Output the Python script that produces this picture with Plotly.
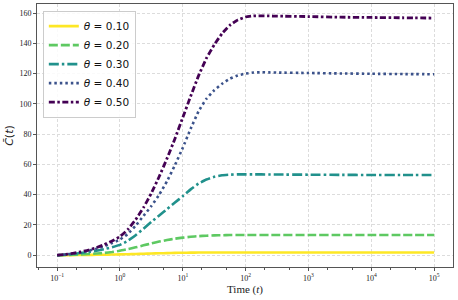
import plotly.graph_objects as go

# time points (log10 of t)
log_t = [-1, -0.875, -0.75, -0.625, -0.5, -0.375, -0.25, -0.125, 0, 0.125, 0.25, 0.375,
         0.5, 0.625, 0.75, 0.875, 1.0, 1.125, 1.25, 1.375, 1.5, 1.625, 1.75, 1.875,
         2.0, 2.125, 2.25, 2.375, 2.5, 3.0, 3.5, 4.0, 4.5, 5.0]
t_vals = [10 ** v for v in log_t]

theta_labels = ["<i>θ</i> = 0.10", "<i>θ</i> = 0.20", "<i>θ</i> = 0.30",
                "<i>θ</i> = 0.40", "<i>θ</i> = 0.50"]

c_010 = [0, 0.03, 0.07, 0.12, 0.18, 0.25, 0.33, 0.42, 0.52, 0.65, 0.8, 0.95,
         1.1, 1.25, 1.4, 1.52, 1.62, 1.7, 1.75, 1.78, 1.8, 1.8, 1.8, 1.8,
         1.8, 1.8, 1.8, 1.8, 1.8, 1.8, 1.8, 1.8, 1.8, 1.8]
c_020 = [0, 0.1, 0.3, 0.5, 0.8, 1.1, 1.5, 2.1, 2.9, 4.0, 5.2, 6.5,
         7.8, 9.0, 10.0, 10.9, 11.6, 12.2, 12.6, 12.9, 13.1, 13.2, 13.3, 13.3,
         13.3, 13.3, 13.3, 13.3, 13.3, 13.3, 13.3, 13.3, 13.3, 13.3]
c_030 = [0, 0.3, 0.8, 1.4, 2.1, 3.0, 4.0, 5.3, 6.8, 9.5, 13.2, 17.5,
         22.0, 26.2, 30.5, 34.8, 39.0, 43.5, 47.3, 50.0, 51.8, 52.8, 53.2, 53.4,
         53.4, 53.4, 53.4, 53.3, 53.3, 53.2, 53.1, 53.0, 53.0, 53.0]
c_040 = [0, 0.4, 1.0, 1.8, 2.9, 4.3, 6.0, 8.0, 10.3, 14.0, 19.5, 26.0,
         32.5, 40.0, 49.0, 59.5, 71.0, 83.5, 95.0, 103.3, 109.0, 113.3, 116.6, 118.8,
         120.0, 120.7, 120.9, 120.8, 120.7, 120.4, 120.1, 119.9, 119.7, 119.6]
c_050 = [0, 0.5, 1.2, 2.2, 3.4, 5.0, 7.0, 9.4, 12.3, 17.0, 23.5, 31.5,
         41.0, 52.0, 64.0, 77.0, 91.0, 105.0, 118.5, 130.0, 139.0, 146.5, 152.0, 155.5,
         157.4, 158.1, 158.2, 158.1, 158.0, 157.7, 157.3, 157.1, 156.9, 156.7]

series = [c_010, c_020, c_030, c_040, c_050]
colors = ["#fde725", "#5ec962", "#21918c", "#3b528b", "#440154"]
dashes = ["solid", "9px,3px", "10px,3px,2.5px,3px", "2.5px,3px", "6px,2.5px,2.5px,2.5px"]
widths = [2.6, 2.6, 2.6, 2.6, 2.8]

x_tickvals = [0.1, 1, 10, 100, 1000, 10000, 100000]
x_ticktext = ["10<sup>−1</sup>", "10<sup>0</sup>", "10<sup>1</sup>", "10<sup>2</sup>",
              "10<sup>3</sup>", "10<sup>4</sup>", "10<sup>5</sup>"]
y_tickvals = [0, 20, 40, 60, 80, 100, 120, 140, 160]

fig = go.Figure()
for name, ys, col, dsh, w in zip(theta_labels, series, colors, dashes, widths):
    fig.add_trace(go.Scatter(x=t_vals, y=ys, mode="lines", name=name,
                             line=dict(color=col, dash=dsh, width=w, shape="spline", smoothing=0.4)))

axis_common = dict(showline=True, linecolor="#555", linewidth=1, mirror=True,
                   ticks="outside", ticklen=3, tickcolor="#555",
                   showgrid=True, gridcolor="#dcdcdc", griddash="3px,2px", gridwidth=0.8,
                   zeroline=False,
                   tickfont=dict(family="Liberation Serif", size=8, color="#222"))

fig.update_xaxes(type="log", range=[-1.32, 5.3], tickvals=x_tickvals, ticktext=x_ticktext,
                 minor=dict(ticks="outside", ticklen=2, tickcolor="#555", showgrid=False),
                 title=dict(text="Time (<i>t</i>)", font=dict(family="Liberation Serif", size=11, color="#222"),
                            standoff=3),
                 **axis_common)
fig.update_yaxes(range=[-7.8, 166], tickvals=y_tickvals,
                 title=dict(text="<i>C̄</i>(<i>t</i>)", font=dict(family="DejaVu Sans", size=11, color="#222"),
                            standoff=3),
                 **axis_common)

fig.update_layout(
    width=458, height=300,
    margin=dict(l=37, r=5, t=4, b=33, autoexpand=False),
    plot_bgcolor="white", paper_bgcolor="white",
    legend=dict(x=0.014, y=0.975, xanchor="left", yanchor="top",
                bgcolor="rgba(255,255,255,0.85)", bordercolor="#cccccc", borderwidth=1,
                font=dict(family="DejaVu Sans", size=10.5, color="#111"),
                tracegroupgap=0, itemwidth=30),
    showlegend=True,
)

fig.write_html("out.html", config={"displayModeBar": False},
               post_script="document.body.style.margin='0px';document.body.style.overflow='hidden';")
